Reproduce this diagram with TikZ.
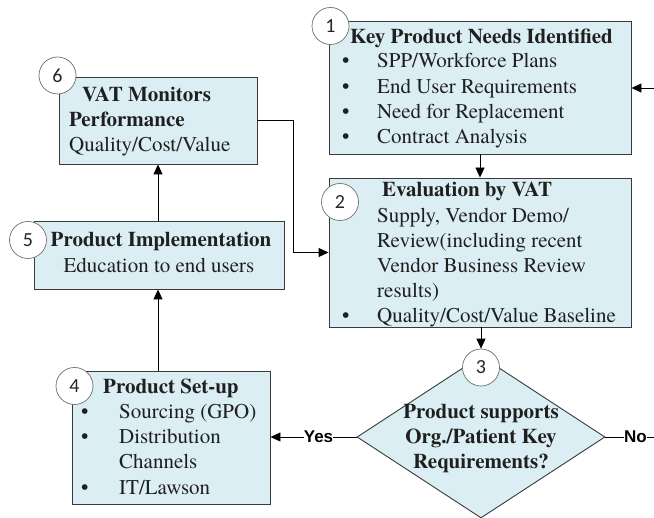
\documentclass[tikz,border=0pt]{standalone}
\usepackage{fontspec}
\newfontfamily\bodyfont{texgyretermes}[Extension=.otf, UprightFont=*-regular, BoldFont=*-bold]
\newfontfamily\numfont{Carlito}
\newfontfamily\lblfont{Liberation Sans}
\usetikzlibrary{arrows.meta,shapes.geometric}
\definecolor{boxfill}{HTML}{DBEEF4}
\definecolor{boxline}{HTML}{3A3A3A}
\definecolor{numline}{HTML}{6E6E6E}
\definecolor{numtext}{HTML}{262626}
\tikzset{
  box/.style={draw=boxline, fill=boxfill, line width=0.9pt, inner sep=0pt},
  num/.style={circle, draw=numline, fill=white, line width=0.7pt, minimum size=37pt,
    inner sep=0pt, text=numtext, font=\numfont\fontsize{20}{20}\selectfont},
  ln/.style={anchor=base west, inner sep=0pt, text=black!88, font=\bodyfont\fontsize{21}{25}\selectfont},
  lnc/.style={ln, anchor=base},
  hd/.style={ln, font=\bodyfont\bfseries\fontsize{21}{25}\selectfont},
  hdc/.style={hd, anchor=base},
  bul/.style={ln},
  lbl/.style={inner sep=0pt, font=\lblfont\bfseries\fontsize{17}{17}\selectfont},
  arr/.style={-{Triangle[length=10pt,width=9pt]}, line width=0.9pt},
  link/.style={line width=0.9pt}
}
\begin{document}
\begin{tikzpicture}[x=1pt,y=-1pt]
\useasboundingbox (0,0) rectangle (654,518);

% boxes
\node[box, minimum width=302pt, minimum height=133pt] (b1) at (480,87.5) {};
\node[box, minimum width=302pt, minimum height=149pt] (b2) at (480,252.5) {};
\node[box, minimum width=198pt, minimum height=87pt] (b6) at (158,120.5) {};
\node[box, minimum width=250pt, minimum height=68pt] (b5) at (159,255) {};
\node[box, minimum width=198pt, minimum height=133pt] (b4) at (171,437.5) {};
\node[box, diamond, minimum width=248pt, minimum height=162pt] (dia) at (481,437) {};

% step 1
\node[hd] (t1h) at (350,44) {Key Product Needs Identified};
\node[bul] (t1b1) at (342,68) {\textbullet};
\node[bul] (t1b2) at (342,94) {\textbullet};
\node[bul] (t1b3) at (342,119) {\textbullet};
\node[bul] (t1b4) at (342,144) {\textbullet};
\node[ln] (t1l1) at (377,68) {SPP/Workforce Plans};
\node[ln] (t1l2) at (377,94) {End User Requirements};
\node[ln] (t1l3) at (377,119) {Need for Replacement};
\node[ln] (t1l4) at (377,144) {Contract Analysis};

% step 2
\node[hd] (t2h) at (382,197) {Evaluation by VAT};
\node[bul] (t2b1) at (342,223) {\textbullet};
\node[bul] (t2b2) at (342,323) {\textbullet};
\node[ln] (t2l1) at (377,223) {Supply, Vendor Demo/};
\node[ln] (t2l2) at (377,248) {Review(including recent};
\node[ln] (t2l3) at (377,273) {Vendor Business Review};
\node[ln] (t2l4) at (377,298) {results)};
\node[ln] (t2l5) at (377,323) {Quality/Cost/Value Baseline};

% step 6
\node[hd] (t6h1) at (82,102) {VAT Monitors};
\node[hd] (t6h2) at (69,127) {Performance};
\node[ln] (t6l1) at (69,152) {Quality/Cost/Value};

% step 5
\node[hdc] (t5h) at (161,247) {Product Implementation};
\node[lnc] (t5l1) at (159,273) {Education to end users};

% step 4
\node[hd] (t4h) at (103,394) {Product Set-up};
\node[bul] (t4b1) at (81,419) {\textbullet};
\node[bul] (t4b2) at (81,444) {\textbullet};
\node[bul] (t4b3) at (81,495) {\textbullet};
\node[ln] (t4l1) at (119,419) {Sourcing (GPO)};
\node[ln] (t4l2) at (119,444) {Distribution};
\node[ln] (t4l3) at (119,469) {Channels};
\node[ln] (t4l4) at (119,495) {IT/Lawson};

% step 3 decision
\node[hdc] (t3l1) at (481,419) {Product supports};
\node[hdc] (t3l2) at (481,444) {Org./Patient Key};
\node[hdc] (t3l3) at (481,469) {Requirements?};

% step numbers
\node[num] (c1) at (330.5,26) {1};
\node[num] (c2) at (340,202) {2};
\node[num] (c3) at (481,367.5) {3};
\node[num] (c4) at (74.5,386) {4};
\node[num] (c5) at (28,240) {5};
\node[num] (c6) at (57.5,75.5) {6};

% branch labels
\node[lbl] (yes) at (318.5,437) {Yes};
\node[lbl] (no) at (635.5,437) {No};
\coordinate (noend) at (654,437);
\coordinate (loopin) at (654,88);

% connectors
\draw[arr] (loopin) -- (loopin -| b1.east);
\draw[arr] (b1.south) -- (b2.north);
\draw[arr] (b2.south -| c3.north) -- (c3.north);
\draw[link] (dia.west) -- (yes.east);
\draw[arr] (yes.west) -- (yes.west -| b4.east);
\draw[link] (dia.east) -- (no.west);
\draw[link] (no.east) -- (noend);
\draw[arr] (b6.south |- b4.north) -- (b6.south |- b5.south);
\draw[arr] (b6.south |- b5.north) -- (b6.south);
\draw[arr] (b6.east) -- ++(36,0) |- (b2.west);
\end{tikzpicture}
\end{document}
